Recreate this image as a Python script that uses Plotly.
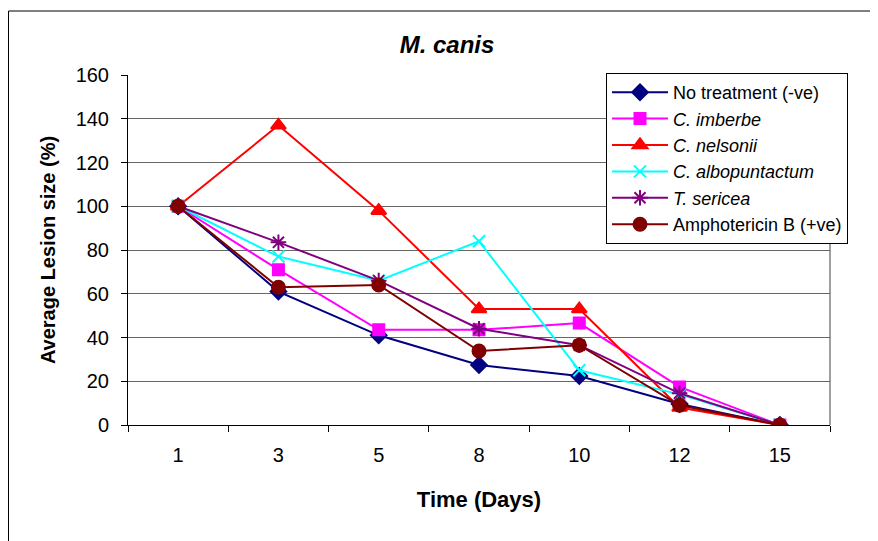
import plotly.graph_objects as go

days = ["1", "3", "5", "8", "10", "12", "15"]
no_treatment = [100, 61, 41, 27.4, 22.4, 9.6, 0]
c_imberbe = [100, 71, 43.5, 43.5, 46.6, 17.4, 0]
c_nelsonii = [100, 137, 98, 53, 53, 8, 0]
c_albopuntactum = [100, 77, 66, 84, 25, 14, 0]
t_sericea = [100, 83.5, 66, 44, 36.5, 14.5, 0]
amphotericin_b = [100, 63, 64, 33.8, 36.5, 9, 0]

series = [
    ("No treatment (-ve)", no_treatment, "#000080", "diamond", 12),
    ("<i>C. imberbe</i>", c_imberbe, "#FF00FF", "square", 11),
    ("<i>C. nelsonii</i>", c_nelsonii, "#FF0000", "triangle-up", 13),
    ("<i>C. albopuntactum</i>", c_albopuntactum, "#00FFFF", "x-thin-open", 12),
    ("<i>T. sericea</i>", t_sericea, "#800080", "asterisk-open", 13),
    ("Amphotericin B (+ve)", amphotericin_b, "#800000", "circle", 13),
]

# The page places the figure 8px in from the window's top-left corner.
OFF = 8
W, H = 878, 541
PL, PR, PT, PB = 128 - OFF, 830 - OFF, 75 - OFF, 425 - OFF   # plot area in figure px
pw, ph = PR - PL, PB - PT

font = "Liberation Sans, Arial, sans-serif"
fig = go.Figure()
for name, vals, col, sym, sz in series:
    fig.add_trace(go.Scatter(
        x=days, y=vals, name=name, mode="lines+markers",
        line=dict(color=col, width=2),
        marker=dict(symbol=sym, size=sz, color=col, line=dict(color=col, width=2)),
    ))

fig.update_layout(
    width=W, height=H,
    margin=dict(l=PL, r=W - PR, t=PT, b=H - PB, autoexpand=False),
    paper_bgcolor="white", plot_bgcolor="white",
    font=dict(family=font, color="black", size=20),
    title=dict(text="<b><i>M. canis</i></b>", x=(447 - OFF) / W, xref="container", xanchor="center",
               y=1 - (45 - OFF) / H, yref="container", yanchor="middle",
               font=dict(size=24, family=font)),
    legend=dict(x=(606 - OFF - PL) / pw, y=(PB - (73 - OFF)) / ph, xanchor="left", yanchor="top",
                bgcolor="white", bordercolor="black", borderwidth=1,
                font=dict(size=18, family=font), tracegroupgap=0,
                itemwidth=56),
    xaxis=dict(type="category", range=[-0.5, 6.5], showgrid=False, automargin=False,
               showline=True, linecolor="black", linewidth=1,
               ticks="outside", tickson="boundaries", ticklen=6, tickcolor="black",
               tickfont=dict(size=20), ticklabelstandoff=12,
               title=dict(text="<b>Time (Days)</b>", font=dict(size=22), standoff=26)),
    yaxis=dict(range=[0, 160], dtick=20, showgrid=True, gridcolor="#666666", gridwidth=1,
               automargin=False,
               showline=True, linecolor="black", linewidth=1, zeroline=False,
               ticks="outside", ticklen=6, tickcolor="black",
               tickfont=dict(size=20), ticklabelstandoff=8,
               title=dict(text="<b>Average Lesion size (%)</b>", font=dict(size=20), standoff=14)),
    showlegend=True,
)

# plot-area right border (grey) and outer chart border
fig.add_shape(type="line", xref="paper", yref="paper", x0=1, x1=1, y0=0, y1=1,
              line=dict(color="#A0A0A0", width=2), layer="below")
fig.add_shape(type="rect", xref="paper", yref="paper",
              x0=(0.5 - PL) / pw, x1=2.0, y0=-1.0, y1=(PB - 3) / ph,
              line=dict(color="black", width=1), fillcolor="rgba(0,0,0,0)", layer="below")

fig.write_html("out.html")
